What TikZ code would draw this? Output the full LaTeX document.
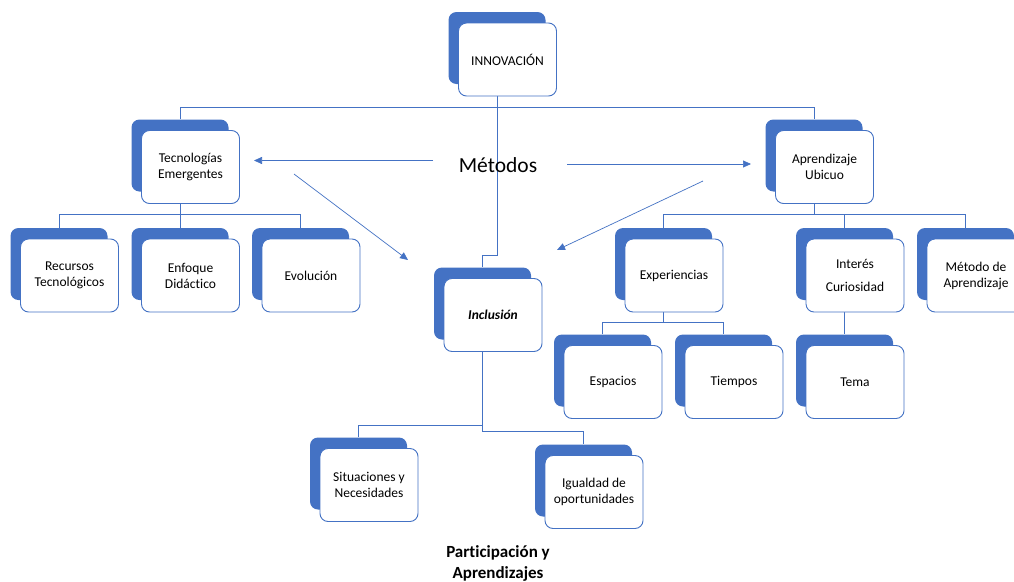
\documentclass[tikz,border=0pt]{standalone}
\usepackage{fontspec}
\setmainfont{Carlito}[Ligatures=NoCommon]
\usepackage{tikz}
\usetikzlibrary{arrows.meta,positioning,backgrounds,calc}
\definecolor{accentblue}{HTML}{4472C4}

\begin{document}
\begin{tikzpicture}[
  x=1pt, y=-1pt,
  backbox/.style = {rectangle, rounded corners=8pt, fill=accentblue,
                    minimum width=97pt, minimum height=72pt, inner sep=0pt},
  frontbox/.style = {rectangle, rounded corners=8pt, draw=accentblue, line width=0.9pt,
                     fill=white, minimum width=98pt, minimum height=73pt, align=center,
                     font=\fontsize{13.5}{16}\selectfont, inner sep=2pt},
  link/.style = {draw=accentblue, line width=0.9pt},
  arrow/.style = {-{Triangle[length=8pt,width=7pt]}, draw=accentblue, line width=0.7pt},
]
\clip (0,0) rectangle (1014,581);

% top
\node[backbox] (innov) at (497,48) {};
\node[frontbox] (innov-f) at ([shift={(10.5,11.5)}]innov.center) {INNOVACIÓN};

% second row
\node[backbox] (tec) at (180,155.5) {};
\node[frontbox] (tec-f) at ([shift={(10.5,11.5)}]tec.center) {Tecnologías\\Emergentes};
\node[backbox] (apr) at (814,155.5) {};
\node[frontbox] (apr-f) at ([shift={(10.5,11.5)}]apr.center) {Aprendizaje\\Ubicuo};

% children of Tecnologias
\node[backbox] (rec) at (59,264) {};
\node[frontbox] (rec-f) at ([shift={(10.5,11.5)}]rec.center) {Recursos\\Tecnológicos};
\node[backbox] (enf) at (180,264) {};
\node[frontbox] (enf-f) at ([shift={(10.5,11.5)}]enf.center) {Enfoque\\Didáctico};
\node[backbox] (evo) at (300.5,264) {};
\node[frontbox] (evo-f) at ([shift={(10.5,11.5)}]evo.center) {Evolución};

% inclusion
\node[backbox] (incl) at (482.5,303.5) {};
\node[frontbox, font=\fontsize{13.5}{16}\selectfont\bfseries\itshape] (incl-f)
  at ([shift={(10.5,11.5)}]incl.center) {Inclusión};

% children of Aprendizaje
\node[backbox] (exp) at (663.5,264) {};
\node[frontbox] (exp-f) at ([shift={(10.5,11.5)}]exp.center) {Experiencias};
\node[backbox] (int) at (844.5,264) {};
\node[frontbox] (int-f) at ([shift={(10.5,11.5)}]int.center) {Interés\\[7pt]Curiosidad};
\node[backbox] (met) at (965.5,264) {};
\node[frontbox] (met-f) at ([shift={(10.5,11.5)}]met.center) {Método de\\Aprendizaje};

% third row right
\node[backbox] (esp) at (602.5,370.5) {};
\node[frontbox] (esp-f) at ([shift={(10.5,11.5)}]esp.center) {Espacios};
\node[backbox] (tie) at (723.5,370.5) {};
\node[frontbox] (tie-f) at ([shift={(10.5,11.5)}]tie.center) {Tiempos};
\node[backbox] (tema) at (844.5,370.5) {};
\node[frontbox] (tema-f) at ([shift={(10.5,11.5)}]tema.center) {Tema};

% children of Inclusion
\node[backbox] (sit) at (358.5,473.5) {};
\node[frontbox] (sit-f) at ([shift={(10.5,11.5)}]sit.center) {Situaciones y\\Necesidades};
\node[backbox] (igu) at (583.5,480.5) {};
\node[frontbox] (igu-f) at ([shift={(10.5,11.5)}]igu.center) {Igualdad de\\oportunidades};

% labels
\node[font=\fontsize{21.5}{24}\selectfont] (metodos) at (498,165) {Métodos};
\node[font=\fontsize{17}{21}\selectfont\bfseries, align=center] (particip) at (498,563)
  {Participación y\\Aprendizajes};

% connectors
\begin{scope}[on background layer]
\fill[white] (0,0) rectangle (1014,581);
\coordinate (bustop) at ($(innov.south)+(0,23)$);
\draw[link] (innov.south) -- (bustop);
\draw[link] (tec.north) |- (bustop) -| (apr.north);
\draw[link] (innov.south) |- ($(incl.north)+(0,-12)$) -- (incl.north);

\coordinate (bustec) at ($(tec.south)+(0,23)$);
\draw[link] (tec.south) -- (enf.north);
\draw[link] (rec.north) |- (bustec) -| (evo.north);

\coordinate (busapr) at ($(apr.south)+(0,23)$);
\draw[link] (apr.south) -- (busapr);
\draw[link] (exp.north) |- (busapr) -| (met.north);
\draw[link] (int.north) -- (int.north |- busapr);

\coordinate (busexp) at ($(exp.south)+(0,22)$);
\draw[link] (exp.south) -- (busexp);
\draw[link] (esp.north) |- (busexp) -| (tie.north);
\draw[link] (int.south) -- (tema.north);

\draw[link] (incl.south) |- ($(igu.north)+(0,-13)$) -- (igu.north);
\draw[link] (sit.north) |- ($(incl.south)+(0,85.5)$);
\end{scope}

% arrows from Metodos
\coordinate (a1s) at (433,160.5);
\coordinate (a1e) at (254,160.5);
\coordinate (a2s) at (567,164);
\coordinate (a2e) at (751,164);
\coordinate (a3s) at (294,174);
\coordinate (a3e) at (408,260);
\coordinate (a4s) at (703,181);
\coordinate (a4e) at (557,250);
\draw[arrow] (a1s) -- (a1e);
\draw[arrow] (a2s) -- (a2e);
\draw[arrow] (a3s) -- (a3e);
\draw[arrow] (a4s) -- (a4e);
\end{tikzpicture}
\end{document}
